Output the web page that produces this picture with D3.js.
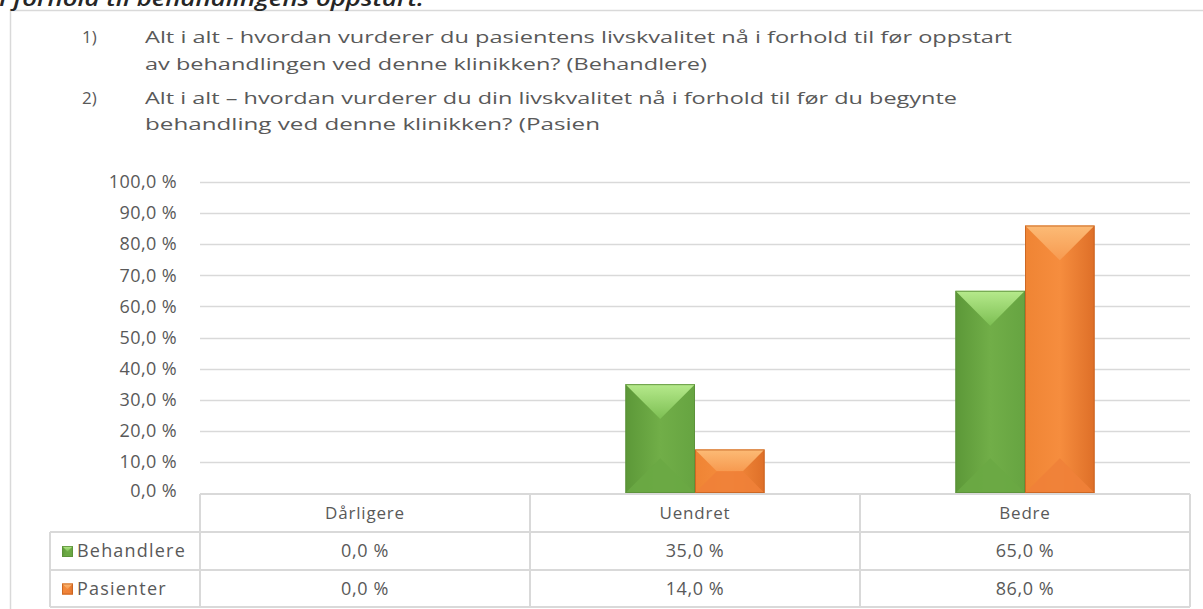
<!DOCTYPE html>
<html>
<head>
<meta charset="utf-8">
<script src="https://cdn.jsdelivr.net/npm/d3@7"></script>
<style>
  body { margin: 0; background: #fff; }
  svg { display: block; font-family: "Open Sans", sans-serif; }
</style>
</head>
<body>
<svg id="chart" width="1203" height="609"></svg>
<script>
var categories = ["Dårligere", "Uendret", "Bedre"];
var seriesNames = ["Behandlere", "Pasienter"];
var behandlere = [0.0, 0.35, 0.65];
var pasienter = [0.0, 0.14, 0.86];
var yTicks = [0, 0.1, 0.2, 0.3, 0.4, 0.5, 0.6, 0.7, 0.8, 0.9, 1.0];
var titleNumbers = ["1)", "", "2)", ""];
var titleLines = [
    "Alt i alt - hvordan vurderer du pasientens livskvalitet nå i forhold til før oppstart",
    "av behandlingen ved denne klinikken? (Behandlere)",
    "Alt i alt – hvordan vurderer du din livskvalitet nå i forhold til før du begynte",
    "behandling ved denne klinikken? (Pasien"
];
var heading = "I forhold til behandlingens oppstart.";

var values = [behandlere, pasienter];

var colors = {
    Behandlere: {side: ["#5c9838", "#71ae48", "#66a441"], top: ["#b6ea8c", "#7dbf53"], bottom: "#6aa944", edge: "#5b8f39"},
    Pasienter: {side: ["#ef8434", "#f68d3e", "#de6f28"], top: ["#fcbb76", "#f79a50"], bottom: "#ef8139", edge: "#c4621f"}
};

var svg = d3.select("#chart");
var grey = "#595959";
var lineGrey = "#d9d9d9";

var nb = d3.formatLocale({decimal: ",", thousands: " ", grouping: [3], currency: ["", " kr"], percent: " %"});
var pct = nb.format(".1%");

var plotLeft = 200, plotRight = 1190, plotTop = 182, plotBottom = 493;

var x = d3.scaleBand().domain(categories).range([plotLeft, plotRight]).padding(0);
var xs = d3.scaleBand().domain(seriesNames).range([0, x.bandwidth()]).paddingInner(0).paddingOuter(1.37);
var y = d3.scaleLinear().domain([0, 1]).range([plotBottom, plotTop]);

// gradients
var defs = svg.append("defs");
seriesNames.forEach(function(s, i) {
    var c = colors[s];
    var g = defs.append("linearGradient").attr("id", "side" + i).attr("x1", 0).attr("x2", 1).attr("y1", 0).attr("y2", 0);
    g.append("stop").attr("offset", "0%").attr("stop-color", c.side[0]);
    g.append("stop").attr("offset", "50%").attr("stop-color", c.side[1]);
    g.append("stop").attr("offset", "100%").attr("stop-color", c.side[2]);
    var t = defs.append("linearGradient").attr("id", "top" + i).attr("x1", 0).attr("x2", 0).attr("y1", 0).attr("y2", 1);
    t.append("stop").attr("offset", "0%").attr("stop-color", c.top[0]);
    t.append("stop").attr("offset", "100%").attr("stop-color", c.top[1]);
});

// outer frame
svg.append("path")
    .attr("d", "M10.5,620 V10.5 H1210")
    .attr("fill", "none")
    .attr("stroke", lineGrey)
    .attr("stroke-width", 1.5);

// cut-off heading at the very top
svg.append("text")
    .attr("x", -1).attr("y", 6)
    .attr("font-size", 22).attr("font-style", "italic").attr("font-weight", 600)
    .attr("fill", "#262626")
    .attr("textLength", 425).attr("lengthAdjust", "spacingAndGlyphs")
    .text(heading);

// title block
var titleY = [43, 70, 104, 130];
svg.append("g").selectAll("text")
    .data(titleNumbers)
    .enter().append("text")
    .attr("x", 82).attr("y", function(d, i) { return titleY[i]; })
    .attr("font-size", 17).attr("fill", grey)
    .text(function(d) { return d; });

var titleEnds = [1012, 707, 957, 600];
svg.append("g").selectAll("text")
    .data(titleLines)
    .enter().append("text")
    .attr("x", 145).attr("y", function(d, i) { return titleY[i]; })
    .attr("font-size", 17).attr("fill", grey)
    .attr("textLength", function(d, i) { return titleEnds[i] - 145; })
    .attr("lengthAdjust", "spacingAndGlyphs")
    .text(function(d) { return d; });

// gridlines
svg.append("g").selectAll("line")
    .data(yTicks.slice(1))
    .enter().append("line")
    .attr("x1", plotLeft).attr("x2", plotRight)
    .attr("y1", function(d) { return Math.round(y(d)) + 0.5; })
    .attr("y2", function(d) { return Math.round(y(d)) + 0.5; })
    .attr("stroke", lineGrey).attr("stroke-width", 1.5);

// y axis labels
var yAxis = d3.axisLeft(y).tickValues(yTicks).tickFormat(pct).tickSize(0).tickPadding(0);
var ya = svg.append("g").attr("transform", "translate(177,0)").call(yAxis);
ya.select(".domain").remove();
ya.selectAll("text")
    .attr("font-family", "Open Sans, sans-serif")
    .attr("font-size", 18).attr("letter-spacing", 0.4).attr("fill", grey)
    .attr("dy", function(d) { return d === 0 ? "0.2em" : "0.32em"; });

// bars with bevel
function bevelBar(g, bx, by, w, h, i) {
    if (h <= 0) return;
    var c = colors[seriesNames[i]];
    var d = Math.min(w, h) / 2;
    d = Math.min(d, 35);
    g.append("rect").attr("x", bx).attr("y", by).attr("width", w).attr("height", h)
        .attr("fill", "url(#side" + i + ")");
    g.append("path")
        .attr("d", "M" + bx + "," + by + "H" + (bx + w) + "L" + (bx + w - d) + "," + (by + d) + "H" + (bx + d) + "Z")
        .attr("fill", "url(#top" + i + ")");
    g.append("path")
        .attr("d", "M" + bx + "," + (by + h) + "H" + (bx + w) + "L" + (bx + w - d) + "," + (by + h - d) + "H" + (bx + d) + "Z")
        .attr("fill", c.bottom).attr("opacity", 0.9);
    g.append("rect").attr("x", bx + 0.5).attr("y", by + 0.5).attr("width", w - 1).attr("height", h - 1)
        .attr("fill", "none").attr("stroke", c.edge).attr("stroke-width", 1).attr("opacity", 0.8);
}

var barLayer = svg.append("g");
categories.forEach(function(cat, ci) {
    seriesNames.forEach(function(s, si) {
        var v = values[si][ci];
        var bx = x(cat) + xs(s);
        var by = y(v);
        bevelBar(barLayer, bx, by, xs.bandwidth(), y(0) - by, si);
    });
});

// data table
var tableTop = 494, rowH = [38, 38, 37];
var rowY = [tableTop, tableTop + rowH[0], tableTop + rowH[0] + rowH[1], tableTop + rowH[0] + rowH[1] + rowH[2]];
var legendLeft = 50;
var tg = svg.append("g").attr("stroke", lineGrey).attr("stroke-width", 2).attr("fill", "none");

tg.append("line").attr("x1", plotLeft).attr("x2", plotRight).attr("y1", rowY[0]).attr("y2", rowY[0]);
[1, 2, 3].forEach(function(r) {
    tg.append("line").attr("x1", legendLeft).attr("x2", plotRight).attr("y1", rowY[r]).attr("y2", rowY[r]);
});
tg.append("line").attr("x1", legendLeft).attr("x2", legendLeft).attr("y1", rowY[1]).attr("y2", rowY[3]);
categories.forEach(function(cat) {
    tg.append("line").attr("x1", x(cat)).attr("x2", x(cat)).attr("y1", rowY[0]).attr("y2", rowY[3]);
});
tg.append("line").attr("x1", plotRight).attr("x2", plotRight).attr("y1", rowY[0]).attr("y2", rowY[3]);

svg.append("g").selectAll("text")
    .data(categories)
    .enter().append("text")
    .attr("x", function(d) { return x(d) + x.bandwidth() / 2; })
    .attr("y", (rowY[0] + rowY[1]) / 2 + 6)
    .attr("text-anchor", "middle")
    .attr("font-size", 17).attr("letter-spacing", 0.8).attr("fill", grey)
    .text(function(d) { return d; });

seriesNames.forEach(function(s, si) {
    var cy = (rowY[si + 1] + rowY[si + 2]) / 2;
    var row = svg.append("g");
    row.selectAll("text")
        .data(values[si])
        .enter().append("text")
        .attr("x", function(d, ci) { return x(categories[ci]) + x.bandwidth() / 2; })
        .attr("y", cy + 6)
        .attr("text-anchor", "middle")
        .attr("font-size", 18).attr("letter-spacing", 0.6).attr("fill", grey)
        .text(function(d) { return pct(d); });
    bevelBar(row, 62, cy - 5, 11, 11, si);
    row.append("text")
        .attr("x", 77).attr("y", cy + 6)
        .attr("font-size", 18).attr("letter-spacing", 1.2).attr("fill", grey)
        .text(s);
});
</script>
</body>
</html>
